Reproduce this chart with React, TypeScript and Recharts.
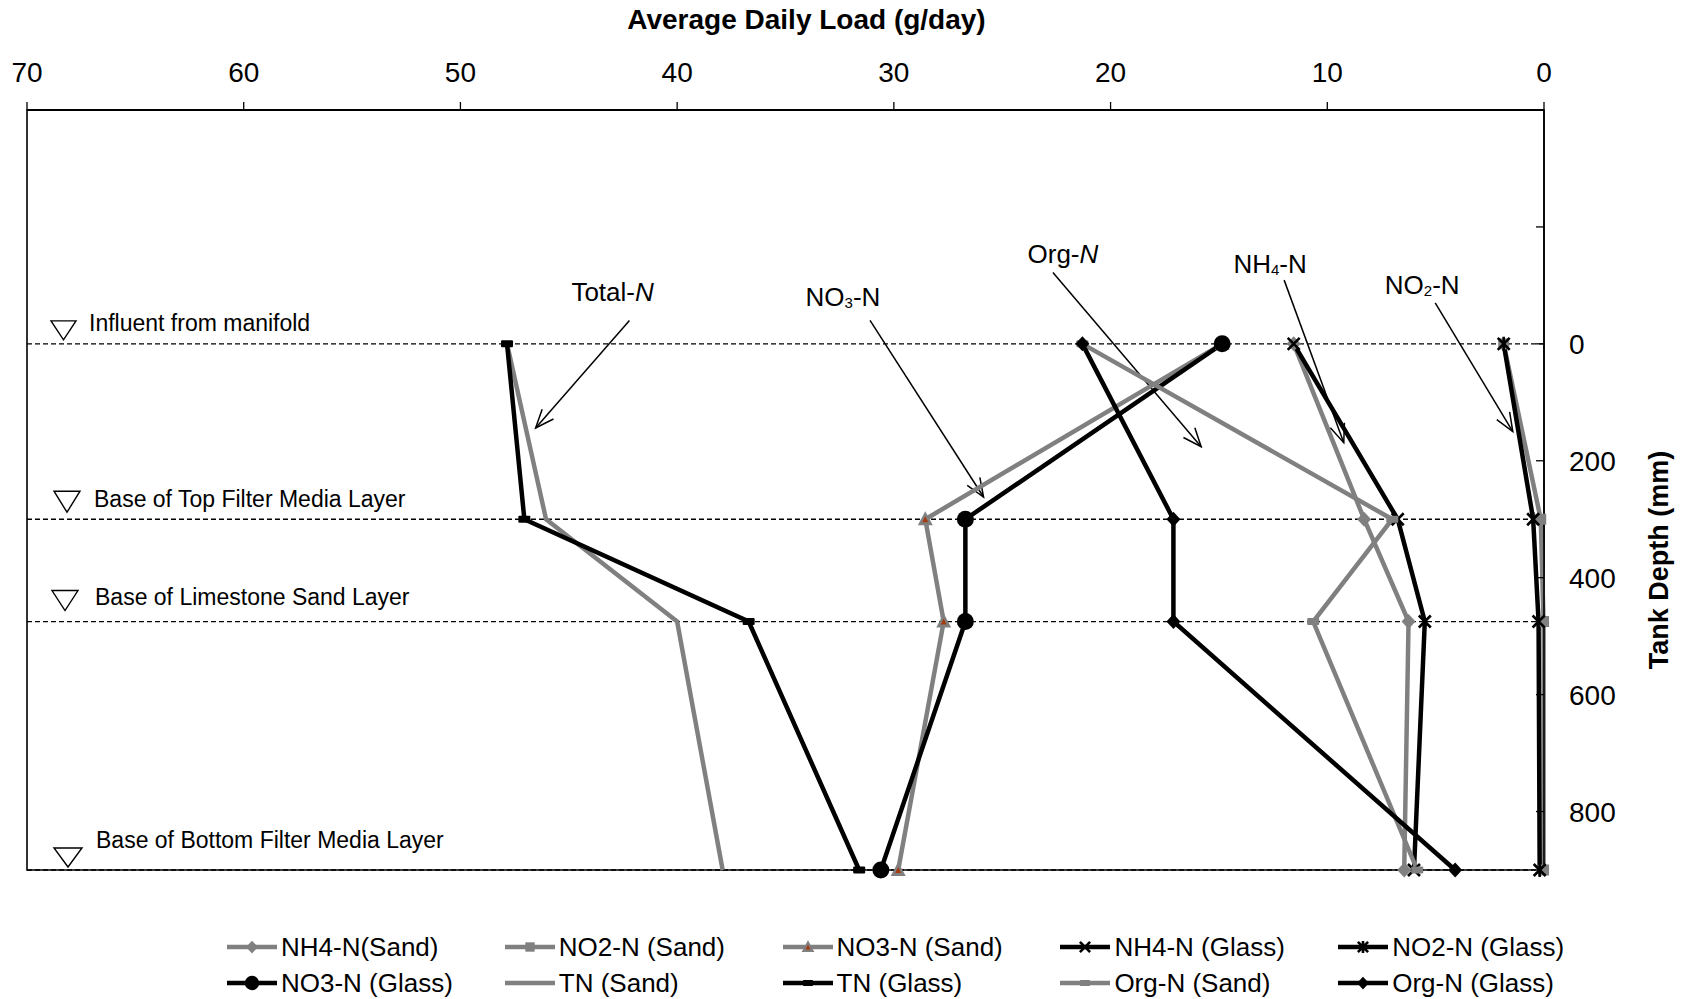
import React from 'react';
import {
  LineChart,
  Line,
  XAxis,
  YAxis,
  ReferenceLine,
  ReferenceArea,
  ReferenceDot,
  Legend,
  Label,
} from 'recharts';

// tank depths (mm) where samples were taken
const depths = [0, 300, 475, 900];

// average daily load (g/day) at each depth
const nh4Sand = [11.55, 8.3, 6.25, 6.45];
const no2Sand = [1.86, 0.15, 0.02, 0.02];
const no3Sand = [14.85, 28.55, 27.7, 29.8];
const nh4Glass = [11.55, 6.75, 5.5, 6.0];
const no2Glass = [1.86, 0.5, 0.25, 0.2];
const no3Glass = [14.85, 26.7, 26.7, 30.6];
const tnSand = [47.85, 46.05, 40.0, 37.9];
const tnGlass = [47.85, 47.05, 36.7, 31.6];
const orgSand = [21.3, 7.0, 10.65, 5.85];
const orgGlass = [21.3, 17.1, 17.1, 4.1];

const xTicks = [70, 60, 50, 40, 30, 20, 10, 0];
const yTicks = [-400, -200, 0, 200, 400, 600, 800];

const layerDepths = [0, 300, 475, 900];
const layerNames = [
  'Influent from manifold',
  'Base of Top Filter Media Layer',
  'Base of Limestone Sand Layer',
  'Base of Bottom Filter Media Layer',
];

// annotation labels and arrows, in data space (load, depth)
const noteLabels = ['Total-N', 'NO3-N', 'Org-N', 'NH4-N', 'NO2-N'];
const noteItalicN = [true, false, true, false, false];
const noteX = [42.98, 32.35, 22.2, 12.64, 5.62];
const noteY = [-88, -80, -154, -137, -101];
const arrowFromX = [42.2, 31.1, 22.66, 11.99, 5.02];
const arrowFromY = [-40, -40, -122, -109, -70];
const arrowToX = [46.53, 25.86, 15.82, 9.24, 1.44];
const arrowToY = [144, 262, 176, 169, 150];

const rows = depths.map((depth, i) => ({
  depth,
  nh4Sand: nh4Sand[i],
  no2Sand: no2Sand[i],
  no3Sand: no3Sand[i],
  nh4Glass: nh4Glass[i],
  no2Glass: no2Glass[i],
  no3Glass: no3Glass[i],
  tnSand: tnSand[i],
  tnGlass: tnGlass[i],
  orgSand: orgSand[i],
  orgGlass: orgGlass[i],
}));

const GRAY = '#808080';
const FONT = '"Liberation Sans", Arial, sans-serif';

const series = [
  { key: 'nh4Sand', name: 'NH4-N(Sand)', color: GRAY, marker: 'diamond' },
  { key: 'no2Sand', name: 'NO2-N (Sand)', color: GRAY, marker: 'square' },
  { key: 'no3Sand', name: 'NO3-N (Sand)', color: GRAY, marker: 'triangle' },
  { key: 'nh4Glass', name: 'NH4-N (Glass)', color: '#000', marker: 'x' },
  { key: 'no2Glass', name: 'NO2-N (Glass)', color: '#000', marker: 'star' },
  { key: 'no3Glass', name: 'NO3-N (Glass)', color: '#000', marker: 'circle' },
  { key: 'tnSand', name: 'TN (Sand)', color: GRAY, marker: 'none' },
  { key: 'tnGlass', name: 'TN (Glass)', color: '#000', marker: 'dash' },
  { key: 'orgSand', name: 'Org-N (Sand)', color: GRAY, marker: 'dash' },
  { key: 'orgGlass', name: 'Org-N (Glass)', color: '#000', marker: 'diamond' },
];

// label offsets relative to plot left / dashed line: [triLeft, triW, triTop, triBottom, textX, textCenter]
const layerLabelPos = [
  [24, 25, -23, -4, 62, -21],
  [27, 26, -28, -7, 67, -20],
  [25, 26, -31, -11, 68, -25],
  [27, 28, -22, -3, 69, -30],
];

function Marker({ kind, cx, cy, color, s = 1 }: any) {
  if (cx == null || cy == null) return null;
  switch (kind) {
    case 'diamond':
      return (
        <path
          d={`M${cx},${cy - 7.5 * s}L${cx + 7 * s},${cy}L${cx},${cy + 7.5 * s}L${cx - 7 * s},${cy}Z`}
          fill={color}
        />
      );
    case 'square':
      return <rect x={cx - 5.5 * s} y={cy - 5.5 * s} width={11 * s} height={11 * s} fill={color} />;
    case 'triangle':
      return (
        <g>
          <path d={`M${cx},${cy - 8 * s}L${cx + 7.5 * s},${cy + 6 * s}L${cx - 7.5 * s},${cy + 6 * s}Z`} fill={color} />
          <path d={`M${cx},${cy - 3 * s}L${cx + 3 * s},${cy + 3 * s}L${cx - 3 * s},${cy + 3 * s}Z`} fill="#A33A10" />
        </g>
      );
    case 'x':
      return (
        <path
          d={`M${cx - 6 * s},${cy - 6 * s}L${cx + 6 * s},${cy + 6 * s}M${cx - 6 * s},${cy + 6 * s}L${cx + 6 * s},${cy - 6 * s}`}
          stroke={color}
          strokeWidth={2.6}
        />
      );
    case 'star':
      return (
        <path
          d={`M${cx - 6 * s},${cy - 6 * s}L${cx + 6 * s},${cy + 6 * s}M${cx - 6 * s},${cy + 6 * s}L${cx + 6 * s},${cy - 6 * s}M${cx},${cy - 7 * s}L${cx},${cy + 7 * s}`}
          stroke={color}
          strokeWidth={2.6}
        />
      );
    case 'circle':
      return <circle cx={cx} cy={cy} r={8.5 * s} fill={color} />;
    case 'dash':
      return <rect x={cx - 6 * s} y={cy - 3.5 * s} width={12 * s} height={7 * s} rx={1} fill={color} />;
    default:
      return null;
  }
}

function DepthTick({ x, y, payload }: any) {
  const v = payload.value;
  return (
    <g>
      <line x1={x - 8} y1={y} x2={x} y2={y} stroke="#000" strokeWidth={1.3} />
      {v >= 0 && (
        <text x={x + 25} y={y + 10} fontSize={28} fontFamily={FONT} fill="#000" textAnchor="start">
          {v}
        </text>
      )}
    </g>
  );
}

function LayerLabel({ viewBox, idx }: any) {
  const [tl, tw, tt, tb, tx, tc] = layerLabelPos[idx];
  const x0 = viewBox.x;
  const y0 = viewBox.y;
  return (
    <g>
      <path
        d={`M${x0 + tl},${y0 + tt}L${x0 + tl + tw},${y0 + tt}L${x0 + tl + tw / 2},${y0 + tb}Z`}
        fill="#fff"
        stroke="#000"
        strokeWidth={1.4}
      />
      <text x={x0 + tx} y={y0 + tc + 8} fontSize={23} fontFamily={FONT} fill="#000">
        {layerNames[idx]}
      </text>
    </g>
  );
}

function NoteText({ cx, cy, idx }: any) {
  const label = noteLabels[idx];
  const parts = label.match(/[A-Za-z-]+|\d+/g) || [];
  const italic = noteItalicN[idx];
  return (
    <text x={cx} y={cy + 9} fontSize={26} fontFamily={FONT} fill="#000" textAnchor="middle">
      {parts.map((p, i) => {
        if (/^\d+$/.test(p)) {
          return (
            <tspan key={i} fontSize={15} dy={2}>
              {p}
            </tspan>
          );
        }
        const prevDigit = i > 0 && /^\d+$/.test(parts[i - 1]);
        if (italic && p.endsWith('-N')) {
          return (
            <React.Fragment key={i}>
              <tspan dy={prevDigit ? -2 : 0}>{p.slice(0, -1)}</tspan>
              <tspan fontStyle="italic">N</tspan>
            </React.Fragment>
          );
        }
        return (
          <tspan key={i} dy={prevDigit ? -2 : 0}>
            {p}
          </tspan>
        );
      })}
    </text>
  );
}

function Arrow({ x1, y1, x2, y2 }: any) {
  const ang = Math.atan2(y1 - y2, x1 - x2);
  const len = 20;
  const spread = (22 * Math.PI) / 180;
  const ax = x2 + len * Math.cos(ang + spread);
  const ay = y2 + len * Math.sin(ang + spread);
  const bx = x2 + len * Math.cos(ang - spread);
  const by = y2 + len * Math.sin(ang - spread);
  return (
    <g>
      <line x1={x1} y1={y1} x2={x2} y2={y2} stroke="#000" strokeWidth={1.5} />
      <path d={`M${ax},${ay}L${x2},${y2}L${bx},${by}`} fill="none" stroke="#000" strokeWidth={1.5} />
    </g>
  );
}

function LegendContent({ payload }: any) {
  const keys = (payload || []).map((p: any) => p.dataKey);
  const items = series.filter((s) => keys.includes(s.key));
  return (
    <div style={{ position: 'relative', width: 1688, height: 68, fontFamily: FONT }}>
      {items.map((s: any, i: number) => {
        const row = Math.floor(i / 5);
        const col = i % 5;
        return (
          <div
            key={s.key}
            style={{
              position: 'absolute',
              left: 227 + 277.8 * col,
              top: 4 + row * 36,
              height: 30,
              display: 'flex',
              alignItems: 'center',
              whiteSpace: 'nowrap',
            }}
          >
            <svg width={54} height={20} style={{ display: 'block' }}>
              <line x1={0} y1={10} x2={50} y2={10} stroke={s.color} strokeWidth={4.5} />
              <Marker kind={s.marker} cx={25} cy={10} color={s.color} s={0.85} />
            </svg>
            <span style={{ fontSize: 26, color: '#000', lineHeight: '30px' }}>{s.name}</span>
          </div>
        );
      })}
    </div>
  );
}

export default function App() {
  return (
    <div
      style={{
        position: 'fixed',
        top: 0,
        left: 0,
        width: 1688,
        height: 999,
        overflow: 'hidden',
        background: '#fff',
        fontFamily: FONT,
      }}
    >
      <LineChart
        width={1688}
        height={999}
        layout="vertical"
        data={rows}
        margin={{ top: 50, right: 44, bottom: 61, left: 27 }}
      >
        <XAxis
          type="number"
          orientation="top"
          reversed
          domain={[0, 70]}
          ticks={xTicks}
          interval={0}
          height={60}
          tickSize={8}
          tickMargin={20}
          tick={{ fontSize: 28, fill: '#000', fontFamily: FONT }}
          axisLine={{ stroke: '#000', strokeWidth: 2.2 }}
          tickLine={{ stroke: '#000', strokeWidth: 1.3 }}
        >
          <Label
            content={({ viewBox }: any) => (
              <text
                x={viewBox.x + viewBox.width / 2 + 21}
                y={viewBox.y - 21}
                textAnchor="middle"
                fontSize={28}
                fontWeight="bold"
                fontFamily={FONT}
                fill="#000"
              >
                Average Daily Load (g/day)
              </text>
            )}
          />
        </XAxis>
        <YAxis
          type="number"
          dataKey="depth"
          orientation="right"
          domain={[-400, 900]}
          ticks={yTicks}
          interval={0}
          width={100}
          tickSize={0}
          tickMargin={0}
          tick={<DepthTick />}
          tickLine={false}
          axisLine={{ stroke: '#000', strokeWidth: 1.6 }}
        >
          <Label
            content={({ viewBox }: any) => {
              const x = viewBox.x + 124;
              const y = viewBox.y + viewBox.height / 2 + 70;
              return (
                <text
                  x={x}
                  y={y}
                  transform={`rotate(-90, ${x}, ${y})`}
                  textAnchor="middle"
                  fontSize={27}
                  fontWeight="bold"
                  fontFamily={FONT}
                  fill="#000"
                >
                  Tank Depth (mm)
                </text>
              );
            }}
          />
        </YAxis>

        <ReferenceArea x1={0} x2={70} y1={-400} y2={900} fill="none" stroke="#000" strokeWidth={1.6} />

        {layerDepths.map((d, i) => (
          <ReferenceLine
            key={`layer-${i}`}
            y={d}
            stroke="#000"
            strokeWidth={1.3}
            strokeDasharray="5 3"
            label={(p: any) => <LayerLabel {...p} idx={i} />}
          />
        ))}

        {noteLabels.map((_, i) => (
          <ReferenceLine
            key={`arrow-${i}`}
            segment={[
              { x: arrowFromX[i], y: arrowFromY[i] },
              { x: arrowToX[i], y: arrowToY[i] },
            ]}
            shape={(p: any) => <Arrow {...p} />}
          />
        ))}

        {noteLabels.map((_, i) => (
          <ReferenceDot
            key={`note-${i}`}
            x={noteX[i]}
            y={noteY[i]}
            r={0}
            shape={(p: any) => <NoteText {...p} idx={i} />}
          />
        ))}

        {series.map((s) => (
          <Line
            key={s.key}
            dataKey={s.key}
            name={s.name}
            stroke={s.color}
            strokeWidth={4.5}
            isAnimationActive={false}
            dot={
              s.marker === 'none'
                ? false
                : (p: any) => <Marker key={`${s.key}-${p.index}`} kind={s.marker} cx={p.cx} cy={p.cy} color={s.color} />
            }
            activeDot={false}
          />
        ))}

        <Legend
          verticalAlign="bottom"
          content={<LegendContent />}
          wrapperStyle={{ left: 0, top: 928, bottom: 'auto', width: 1688, height: 68 }}
        />
      </LineChart>
    </div>
  );
}
